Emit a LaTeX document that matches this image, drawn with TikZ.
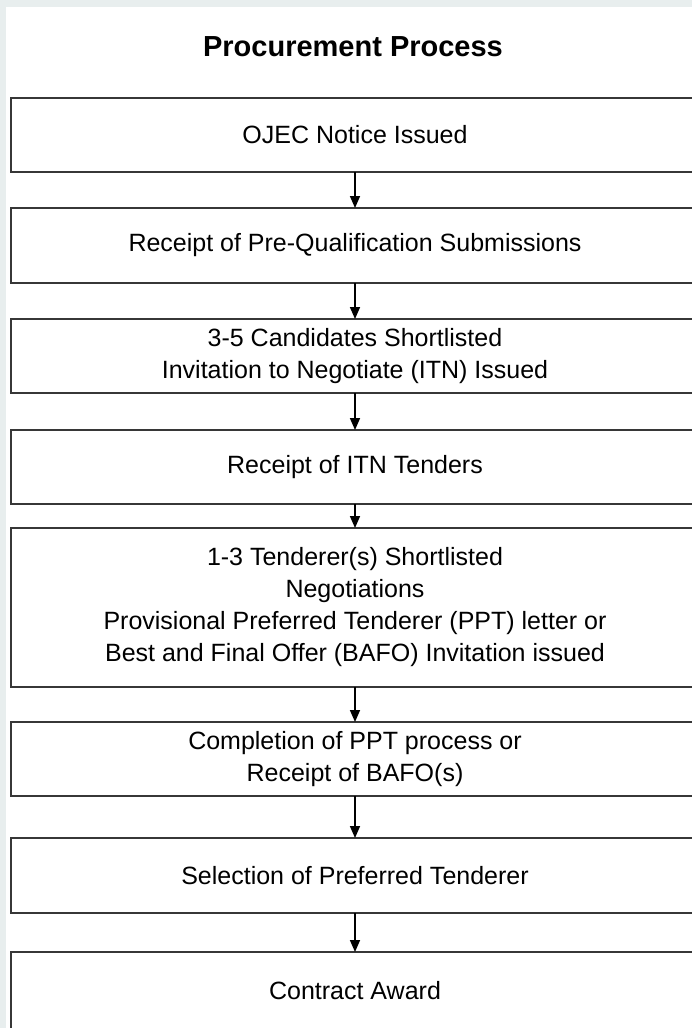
\documentclass[tikz,border=0pt]{standalone}
\usepackage{fontspec}
\setmainfont{Liberation Sans}
\usetikzlibrary{arrows.meta}
\definecolor{pagegray}{RGB}{232, 238, 238}
\definecolor{boxline}{RGB}{55, 55, 55}

\begin{document}
\begin{tikzpicture}[
    x=1pt, y=-1pt,
    font=\fontsize{25}{32}\selectfont,
    stage/.style={draw=boxline, fill=white, line width=2pt, minimum width=689pt,
                  minimum height=#1, align=center, inner sep=0pt, outer sep=0pt},
    stage/.default=74pt,
    flow/.style={-{Triangle[length=12pt, width=10pt]}, line width=1.6pt}
]

    % ==========================================
    % PAGE (grey frame, white panel)
    % ==========================================
    \useasboundingbox (0, 0) rectangle (692, 1028);
    \clip (0, 0) rectangle (692, 1028);
    \fill[pagegray] (0, 0) rectangle (692, 1028);
    \fill[white] (6, 7) rectangle (692, 1028);

    \node[font=\fontsize{29}{34}\selectfont\bfseries] (title) at (353, 47) {Procurement Process};

    % ==========================================
    % STAGES
    % ==========================================
    \node[stage]       (ojec)     at (355, 135)   {OJEC Notice Issued};
    \node[stage=75pt]  (prequal)  at (355, 245.5) {Receipt of Pre-Qualification Submissions};
    \node[stage]       (itn)      at (355, 356)   {3-5 Candidates Shortlisted\\Invitation to Negotiate (ITN) Issued};
    \node[stage]       (tenders)  at (355, 467)   {Receipt of ITN Tenders};
    \node[stage=159pt] (nego)     at (355, 607.5) {1-3 Tenderer(s) Shortlisted\\Negotiations\\Provisional Preferred Tenderer (PPT) letter or\\Best and Final Offer (BAFO) Invitation issued};
    \node[stage]       (bafo)     at (355, 759)   {Completion of PPT process or\\Receipt of BAFO(s)};
    \node[stage=75pt]  (select)   at (355, 875.5) {Selection of Preferred Tenderer};
    \node[stage=78pt]  (award)    at (355, 991)   {Contract Award};

    % Arrows between stages
    \draw[flow] (ojec)    -- (prequal);
    \draw[flow] (prequal) -- (itn);
    \draw[flow] (itn)     -- (tenders);
    \draw[flow] (tenders) -- (nego);
    \draw[flow] (nego)    -- (bafo);
    \draw[flow] (bafo)    -- (select);
    \draw[flow] (select)  -- (award);

\end{tikzpicture}
\end{document}
